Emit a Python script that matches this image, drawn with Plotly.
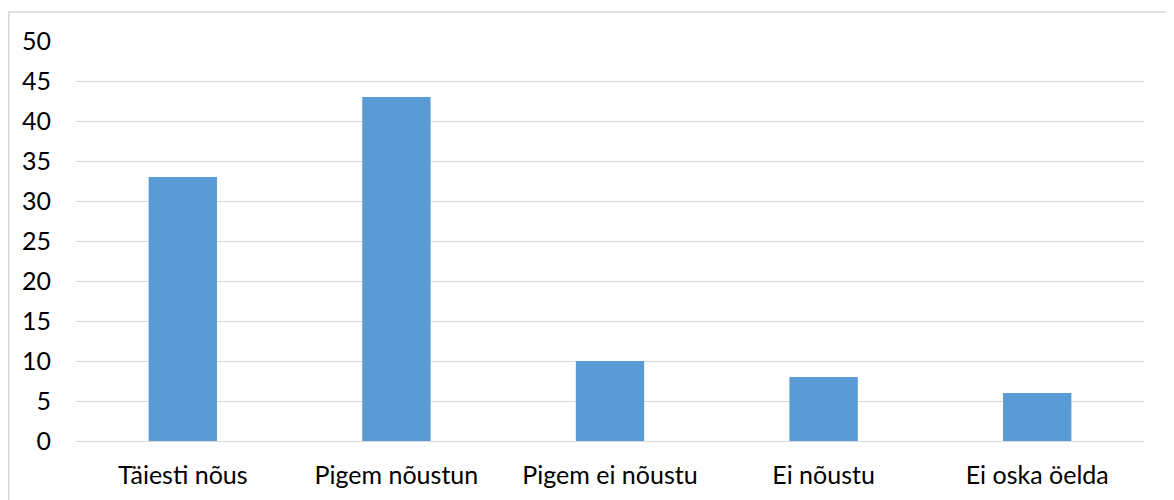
import plotly.graph_objects as go

categories = ["Täiesti nõus", "Pigem nõustun", "Pigem ei nõustu", "Ei nõustu", "Ei oska öelda"]
values = [33, 43, 10, 8, 6]
y_ticks = [0, 5, 10, 15, 20, 25, 30, 35, 40, 45, 50]

fig = go.Figure(go.Bar(x=categories, y=values, marker=dict(color="#5B9BD5", line=dict(width=0))))

fig.update_layout(
    width=1166, height=492,
    margin=dict(l=68, r=30, t=33, b=59),
    paper_bgcolor="white", plot_bgcolor="white",
    bargap=0.68,
    showlegend=False,
    font=dict(family="Lato", size=25, color="#000000"),
    xaxis=dict(showgrid=False, showline=False, ticks="", ticklabelstandoff=17,
               tickfont=dict(size=25)),
    yaxis=dict(range=[0, 50], tickvals=y_ticks, showgrid=True, gridcolor="#D9D9D9", gridwidth=1.2,
               zeroline=True, zerolinecolor="#D9D9D9", zerolinewidth=1.2, showline=False,
               ticks="", ticklabelstandoff=24, tickfont=dict(size=25)),
    shapes=[dict(type="rect", xref="paper", yref="paper",
                 x0=(8.8 - 76) / 1068, x1=(1167 - 76) / 1068,
                 y0=(441 - 510) / 400, y1=(441 - 12) / 400,
                 line=dict(color="#D9D9D9", width=1.5), fillcolor="rgba(0,0,0,0)", layer="below")],
)

fig.write_html("out.html")
